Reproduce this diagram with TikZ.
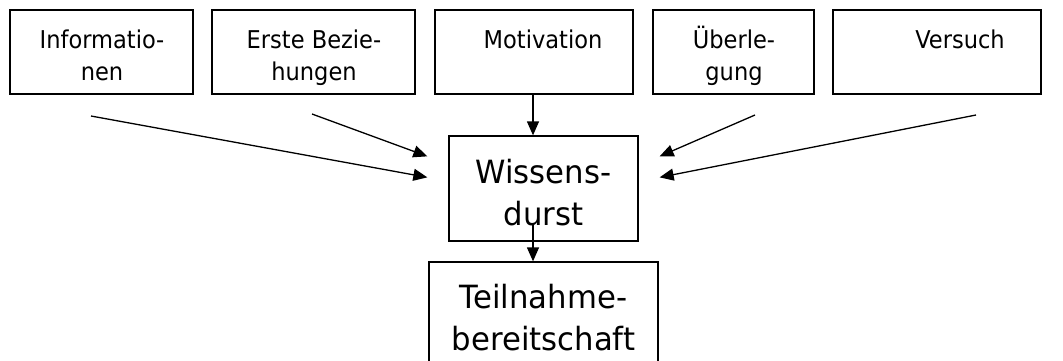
\documentclass[tikz,border=0pt]{standalone}
\usepackage{fontspec}
\setmainfont{DejaVu Sans}
\newfontfamily\narrowfont[FakeStretch=0.92]{DejaVu Sans}
\newfontfamily\bignarrowfont[FakeStretch=0.96]{DejaVu Sans}
\usetikzlibrary{arrows.meta,calc}
\begin{document}
\begin{tikzpicture}[x=1pt,y=-1pt,
  box/.style={draw, line width=1.3pt, inner sep=0pt},
  small/.style={align=center, anchor=base, inner sep=0pt, font=\narrowfont\fontsize{24.5}{32}\selectfont},
  big/.style={align=center, anchor=base, inner sep=0pt, font=\bignarrowfont\fontsize{32}{42}\selectfont},
  arr/.style={line width=1.3pt, -{Triangle[length=14pt,width=12pt]}}]
\useasboundingbox (0,0) rectangle (1063,360);
\clip (0,0) rectangle (1063,360);
% top boxes
\node[box, minimum width=183pt, minimum height=84pt] (info) at (101.5,52) {};
\node[small] (infot) at (102,80) {Informatio-\\nen};
\node[box, minimum width=203pt, minimum height=84pt] (erste) at (313.5,52) {};
\node[small] (erstet) at (314,80) {Erste Bezie-\\hungen};
\node[box, minimum width=198pt, minimum height=84pt] (moti) at (534,52) {};
\node[small] (motit) at (543,48) {Motivation};
\node[box, minimum width=161pt, minimum height=84pt] (ueber) at (733.5,52) {};
\node[small] (uebert) at (734,80) {Überle-\\gung};
\node[box, minimum width=208pt, minimum height=84pt] (vers) at (937,52) {};
\node[small] (verst) at (960,48) {Versuch};
% middle
\node[box, minimum width=189pt, minimum height=105pt] (wiss) at (543.5,188.5) {};
\node[big] (wisst) at (543.5,225) {Wissens-\\durst};
% bottom
\node[box, minimum width=229pt, minimum height=160pt] (teil) at (543.5,342) {};
\node[big] (teilt) at (543.5,350) {Teilnahme-\\bereitschaft};
% connectors
\coordinate (s1) at (91,116);
\coordinate (s2) at (312,114);
\coordinate (s4) at (755,115);
\coordinate (s5) at (976,115);
\draw[arr] (s1) -- ($(wiss.north west)+(-21,42)$);
\draw[arr] (s2) -- ($(wiss.north west)+(-21,21)$);
\draw[arr] (s4) -- ($(wiss.north east)+(21,21)$);
\draw[arr] (s5) -- ($(wiss.north east)+(21,42)$);
\draw[arr] (moti.south -| 533,0) -- (wiss.north -| 533,0);
\draw[arr] ($(wiss.south -| 533,0)+(0,-19)$) -- (teil.north -| 533,0);
\end{tikzpicture}
\end{document}
